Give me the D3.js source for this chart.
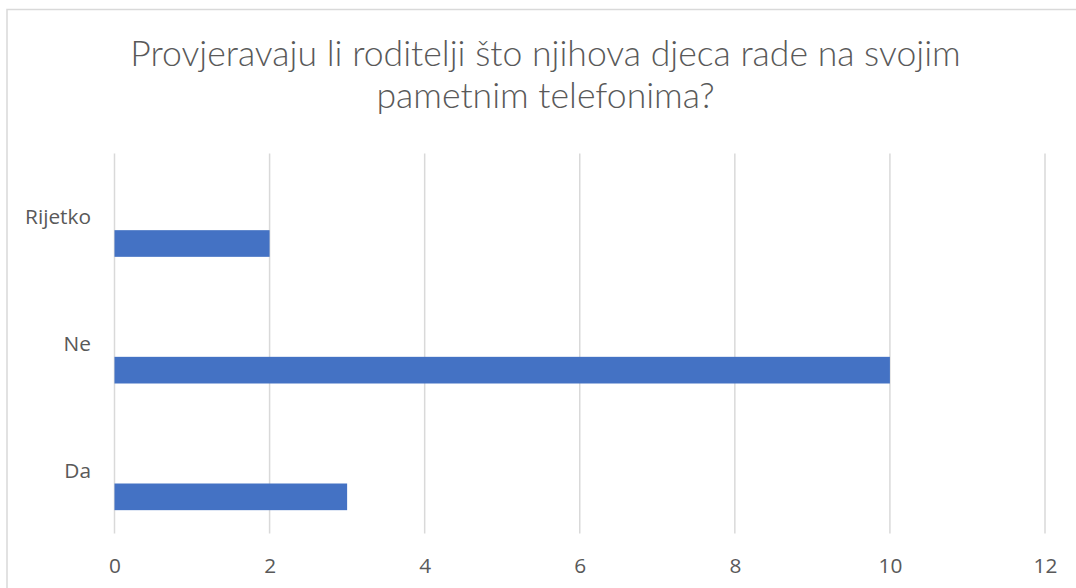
<!DOCTYPE html>
<html>
<head>
<meta charset="utf-8">
<script src="https://cdn.jsdelivr.net/npm/d3@7"></script>
<style>
html,body{margin:0;padding:0;background:#fff;}
svg{display:block;}
</style>
</head>
<body>
<svg id="chart" width="1076" height="588"></svg>
<script>
const titleLines = ["Provjeravaju li roditelji što njihova djeca rade na svojim", "pametnim telefonima?"];
const categories = ["Da", "Ne", "Rijetko"];
const values = [3, 10, 2];
const seriesNames = ["Prazno 1", "Prazno 2", "Broj"];
const xTicks = [0, 2, 4, 6, 8, 10, 12];

const FONT = "'Open Sans', Lato, sans-serif";
const TITLE_FONT = "Lato, 'Open Sans', sans-serif";
const TEXT = "#595959", GRID = "#d9d9d9", BAR = "#4472c4";

const svg = d3.select("#chart");

// chart border (extends past the right/bottom edge of the view)
svg.append("rect").attr("x", 7).attr("y", 9.5).attr("width", 1120).attr("height", 640)
  .attr("fill", "#fff").attr("stroke", GRID).attr("stroke-width", 1.5);

const margin = {left: 114.5, right: 1045, top: 153.5, bottom: 533.5};
const x = d3.scaleLinear().domain([0, 12]).range([margin.left, margin.right]);
const y = d3.scaleBand().domain(categories.slice().reverse()).range([margin.top, margin.bottom]).padding(0);
const ySub = d3.scaleBand().domain(seriesNames).range([0, y.bandwidth()])
  .paddingInner(0).paddingOuter(0.875);

// helper: fit a font size so that a text spans a target width
function fitSize(sel, target) {
  sel.attr("font-size", 20);
  const w = sel.node().getComputedTextLength();
  sel.attr("font-size", 20 * target / w);
  return 20 * target / w;
}

// title
const t1 = svg.append("text").attr("x", 545.5).attr("y", 66).attr("text-anchor", "middle")
  .attr("font-family", TITLE_FONT).attr("font-weight", 300).attr("fill", TEXT).text(titleLines[0]);
const ts = fitSize(t1, 831);
svg.append("text").attr("x", 545.5).attr("y", 108).attr("text-anchor", "middle")
  .attr("font-family", TITLE_FONT).attr("font-weight", 300).attr("fill", TEXT).attr("font-size", ts).text(titleLines[1]);

// gridlines
svg.append("g").selectAll("line").data(xTicks).join("line")
  .attr("x1", d => x(d)).attr("x2", d => x(d))
  .attr("y1", margin.top).attr("y2", margin.bottom)
  .attr("stroke", GRID).attr("stroke-width", 1.5);

// measure label size
const probe = svg.append("text").attr("font-family", FONT).attr("font-weight", 400).text("Rijetko");
const ls = fitSize(probe, 66);
probe.remove();

// x axis (tick labels only)
const xAxis = d3.axisBottom(x).tickValues(xTicks).tickSize(0).tickPadding(0).tickFormat(d3.format("d"));
const gx = svg.append("g").attr("transform", `translate(0,${margin.bottom})`).call(xAxis);
gx.select(".domain").remove();
gx.selectAll("text").attr("font-family", FONT).attr("font-weight", 400).attr("font-size", ls).attr("fill", TEXT)
  .attr("dy", null).attr("y", 39.5);

// y axis category labels
const yAxis = d3.axisLeft(y).tickSize(0).tickPadding(0);
const gy = svg.append("g").attr("transform", `translate(91,0)`).call(yAxis);
gy.select(".domain").remove();
gy.selectAll("text").attr("font-family", FONT).attr("font-weight", 400).attr("font-size", ls).attr("fill", TEXT)
  .attr("dy", null).attr("y", 7.5).attr("x", 0);

// bars
svg.append("g").selectAll("rect").data(categories.map((c, i) => ({c, v: values[i]}))).join("rect")
  .attr("x", x(0)).attr("y", d => y(d.c) + ySub("Broj"))
  .attr("width", d => x(d.v) - x(0)).attr("height", ySub.bandwidth())
  .attr("fill", BAR);
</script>
</body>
</html>
